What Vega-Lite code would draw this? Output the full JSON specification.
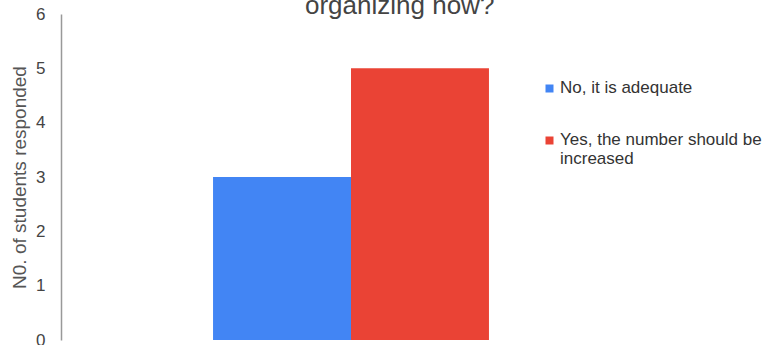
{
  "$schema": "https://vega.github.io/schema/vega-lite/v6.json",
  "width": 580,
  "height": 326,
  "autosize": {"type": "none"},
  "padding": {"left": 61, "top": 14, "right": 124, "bottom": 5},
  "background": "white",
  "config": {
    "view": {"stroke": null},
    "font": "Liberation Sans"
  },
  "title": {
    "text": "organizing now?",
    "anchor": "start",
    "frame": "group",
    "dx": 244,
    "dy": 40,
    "fontSize": 26,
    "fontWeight": "normal",
    "color": "#444444",
    "offset": 0,
    "baseline": "bottom"
  },
  "data": {
    "values": [
      {"q": "events", "answer": "No, it is adequate", "students": 3},
      {"q": "events", "answer": "Yes, the number should be increased", "students": 5}
    ]
  },
  "mark": {"type": "bar"},
  "encoding": {
    "x": {
      "field": "q",
      "type": "nominal",
      "axis": null,
      "scale": {"paddingInner": 0, "paddingOuter": 0.551}
    },
    "xOffset": {
      "field": "answer",
      "type": "nominal",
      "scale": {"paddingInner": 0, "paddingOuter": 0}
    },
    "y": {
      "field": "students",
      "type": "quantitative",
      "scale": {"domain": [0, 6], "nice": false},
      "axis": {
        "title": "N0. of students responded",
        "titleFont": "Liberation Sans",
        "titleFontSize": 19,
        "titleFontWeight": "normal",
        "titleColor": "#555555",
        "titlePadding": 6,
        "values": [0, 1, 2, 3, 4, 5, 6],
        "format": "d",
        "labelFontSize": 17,
        "labelColor": "#444444",
        "labelPadding": 16,
        "ticks": false,
        "grid": false,
        "domainColor": "#999999",
        "domainWidth": 1.5
      }
    },
    "color": {
      "field": "answer",
      "type": "nominal",
      "scale": {
        "domain": ["No, it is adequate", "Yes, the number should be increased"],
        "range": ["#4285F4", "#EA4335"]
      },
      "legend": {
        "title": null,
        "orient": "none",
        "legendX": 480,
        "legendY": 66,
        "symbolType": "square",
        "symbolSize": 64,
        "symbolStrokeWidth": 0,
        "labelFontSize": 17,
        "labelColor": "#333333",
        "labelOffset": 2,
        "labelLineHeight": 19,
        "rowPadding": 34,
        "labelLimit": 300,
        "labelBaseline": "top",
        "labelExpr": "datum.label == 'Yes, the number should be increased' ? ['Yes, the number should be', 'increased'] : datum.label",
        "encode": {"labels": {"update": {"dy": {"value": -9}}}}
      }
    }
  }
}
